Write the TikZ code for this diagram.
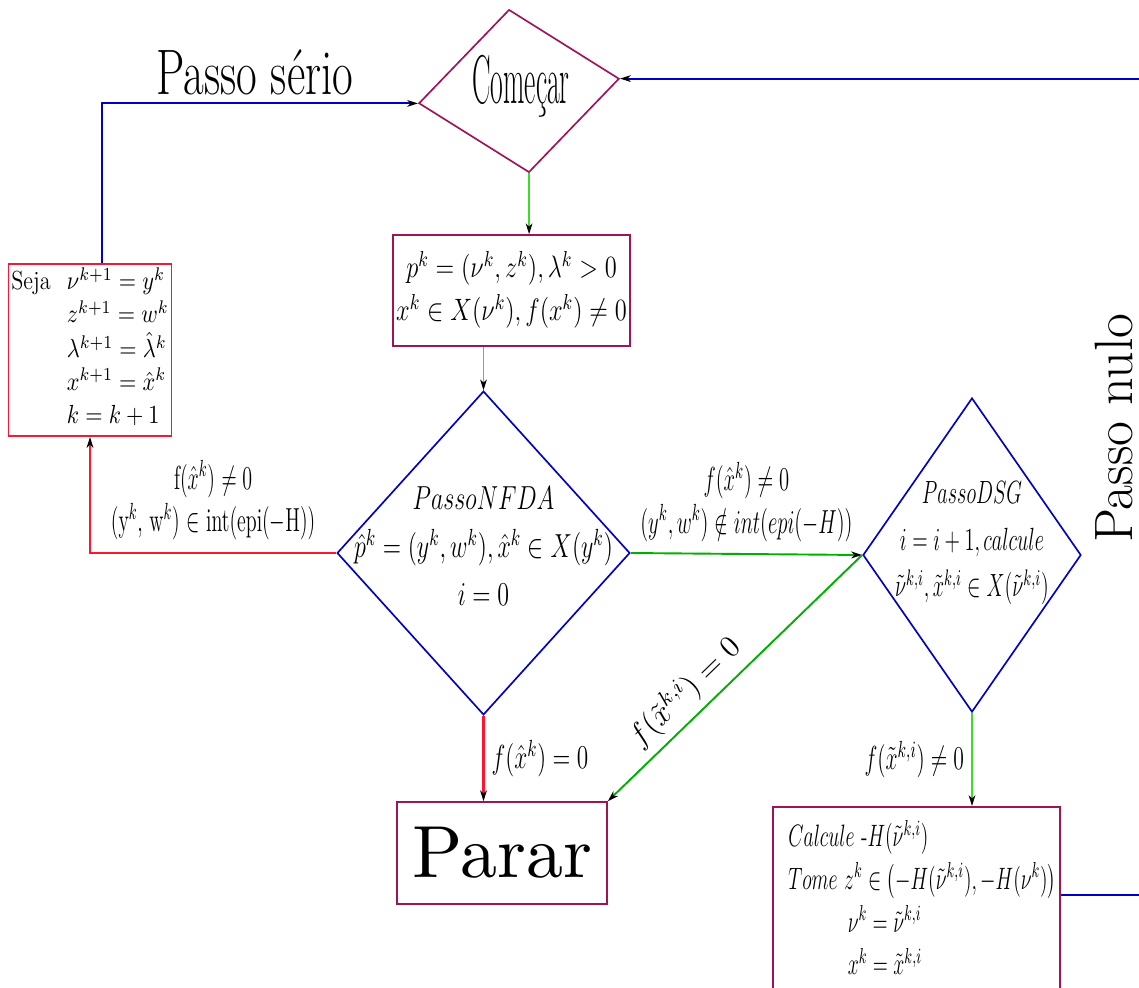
\RequirePackage{fix-cm}
\documentclass[tikz,border=0pt]{standalone}
\usepackage{amsmath}
\usepackage{graphicx}
\usetikzlibrary{shapes.geometric,arrows.meta}

\definecolor{boxpurple}{RGB}{160,20,85}
\definecolor{flowblue}{RGB}{0,0,200}
\definecolor{flowred}{RGB}{255,20,50}
\definecolor{lightgreen}{RGB}{60,220,40}
\definecolor{darkgreen}{RGB}{0,175,0}

% narrow text, as in the original drawing
\newcommand{\squeezed}[2]{\scalebox{#1}[1]{#2}}

\begin{document}
\begin{tikzpicture}[x=0.42pt, y=-0.42pt]
        \tikzset{
            startdiamond/.style={
                diamond,
                draw=boxpurple,
                line width=0.7pt,
                inner sep=0pt,
                minimum width=84.8pt,
                minimum height=68.9pt
            },
            decision/.style={
                diamond,
                draw=flowblue,
                line width=0.7pt,
                inner sep=0pt
            },
            process/.style={
                draw=boxpurple,
                line width=0.7pt,
                inner sep=1pt
            },
            update/.style={
                draw=flowred,
                line width=0.8pt,
                inner sep=1.2pt
            },
            condlabel/.style={font=\fontsize{14}{18}\selectfont, inner sep=3pt},
            tip/.style={-{Stealth[black, length=4.5pt, width=2.8pt, inset=1.3pt]}},
            bluearrow/.style={tip, line width=0.9pt, draw=flowblue},
            redarrow/.style={tip, line width=0.9pt, draw=flowred},
            greenarrow/.style={tip, line width=0.8pt, draw=darkgreen},
            thinarrow/.style={tip, line width=0.7pt, draw=lightgreen}
        }
        \clip (0,0) rectangle (1139,987);

        \node[startdiamond, rotate=7] (start) at (519,91) {};
        \node[font=\fontsize{29}{34}\selectfont] (starttext) at (521,86)
            {\squeezed{0.4}{Começar}};

        \node[process, minimum width=99.5pt, minimum height=46.6pt,
              font=\fontsize{13}{18}\selectfont] (pk) at (511.5,290.5)
            {\squeezed{0.79}{\begin{tabular}{@{}c@{}}
                $p^k = (\nu^k, z^k), \lambda^k > 0$\\
                $x^k \in X(\nu^k), f(x^k) \neq 0$
             \end{tabular}}};

        \node[decision, minimum width=123pt, minimum height=136pt] (nfda) at (483.5,553) {};
        \node[font=\fontsize{14}{20}\selectfont] (nfdatext) at (483.5,548)
            {\squeezed{0.72}{\begin{tabular}{@{}c@{}}
                $PassoNFDA$\\
                $\hat{p}^k = (y^k, w^k), \hat{x}^k \in X(y^k)$\\
                $i = 0$
             \end{tabular}}};

        \node[decision, minimum width=91.6pt, minimum height=131.9pt] (dsg) at (972,555) {};
        \node[font=\fontsize{13.5}{19.5}\selectfont] (dsgtext) at (972,541)
            {\squeezed{0.63}{\begin{tabular}{@{}c@{}}
                $PassoDSG$\\
                $i = i+1, calcule$\\
                $\tilde{\nu}^{k,i}, \tilde{x}^{k,i} \in X(\tilde{\nu}^{k,i})$
             \end{tabular}}};

        \node[update, minimum width=67.2pt, minimum height=69.7pt,
              font=\fontsize{11}{12}\selectfont] (seja) at (90,350)
            {\squeezed{0.85}{\def\arraystretch{1.15}\begin{tabular}{@{}l@{\hspace{8pt}}l@{}}
                Seja & $\nu^{k+1} = y^k$\\
                     & $z^{k+1} = w^k$\\
                     & $\lambda^{k+1} = \hat{\lambda}^k$\\
                     & $x^{k+1} = \hat{x}^k$\\
                     & $k = k+1$
             \end{tabular}}};

        \node[process, minimum width=88.2pt, minimum height=42.8pt,
              font=\fontsize{10}{12}\selectfont] (parar) at (502,853)
            {\scalebox{3.1}{Parar}};

        \node[process, anchor=north west, minimum width=120.5pt, inner xsep=0pt,
              inner ysep=4pt, text depth=80pt, font=\fontsize{13}{18}\selectfont]
              (calc) at (772,806)
            {\hspace*{5pt}\squeezed{0.64}{\begin{tabular}[t]{@{}l@{}}
                $Calcule$ -$H(\tilde{\nu}^{k,i})$\\
                $Tome\ z^k \in \bigl(-H(\tilde{\nu}^{k,i}), -H(\nu^k)\bigr)$\\
                \hspace*{3em}$\nu^k = \tilde{\nu}^{k,i}$\\
                \hspace*{3em}$x^k = \tilde{x}^{k,i}$
             \end{tabular}}};

        \node[rotate=90, font=\fontsize{22.7}{27}\selectfont] (nulo) at (1114,428) {Passo nulo};

        \draw[thinarrow] (start.south) -- (start.south |- pk.north);
        \draw[thinarrow] (pk.south -| nfda.north) -- (nfda.north);
        \draw[redarrow] (nfda.west) -| node[condlabel, pos=0.25, above] (keeplabel)
            {\squeezed{0.6}{\begin{tabular}{@{}c@{}}
                f($\hat{x}^k$) $\neq 0$\\
                (y$^k$, w$^k$) $\in$ int(epi($-$H))
             \end{tabular}}} (seja.south);
        \draw[redarrow] (nfda.south) -- node[condlabel, right] (stoplabel)
            {\squeezed{0.7}{$f(\hat{x}^k) = 0$}} (nfda.south |- parar.north);
        \draw[greenarrow] (nfda.east) -- node[condlabel, above] (searchlabel)
            {\squeezed{0.62}{\begin{tabular}{@{}c@{}}
                $f(\hat{x}^k) \neq 0$\\
                $(y^k, w^k) \notin int(epi(-H))$
             \end{tabular}}} (dsg.west);
        \draw[greenarrow] (dsg.west) -- node[pos=0.63, above, sloped, inner sep=3pt,
              font=\fontsize{13}{16}\selectfont] (zerolabel)
            {$f(\tilde{x}^{k,i}) = 0$} (parar.north east);
        \draw[thinarrow] (dsg.south) -- node[condlabel, left] (nonzerolabel)
            {\squeezed{0.65}{$f(\tilde{x}^{k,i}) \neq 0$}} (dsg.south |- calc.north);
        \draw[bluearrow] ([xshift=5pt]seja.north) |- node[pos=0.742, above, inner sep=3pt,
              font=\fontsize{27}{32}\selectfont] (seriolabel)
            {\squeezed{0.7}{Passo sério}} (start.west);
        \draw[bluearrow] ([yshift=-37.4pt]calc.north east) -- ++(100,0) |- (start.east);
\end{tikzpicture}
\end{document}
